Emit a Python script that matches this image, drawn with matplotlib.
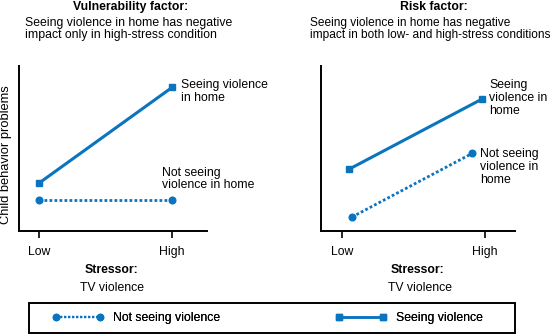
import matplotlib
matplotlib.use('Agg')
import matplotlib.pyplot as plt
from matplotlib.lines import Line2D
from matplotlib.patches import Rectangle

plt.rcParams['font.family'] = ['Liberation Sans', 'DejaVu Sans']
plt.rcParams['font.size'] = 8.8

BLUE = '#0a74bf'
W, H = 558, 334

# x: stressor level (0 = Low, 1 = High), y: child behavior problems (arbitrary units)
stress_ticks = [0, 1]
stress_labels = ['Low', 'High']

# vulnerability factor panel
vul_seeing_x = [0.0, 1.0]
vul_seeing_y = [2.9, 8.7]
vul_not_x = [0.0, 1.0]
vul_not_y = [1.9, 1.9]

# risk factor panel
risk_seeing_x = [0.05, 0.98]
risk_seeing_y = [3.75, 8.0]
risk_not_x = [0.07, 0.91]
risk_not_y = [0.85, 4.7]

legend_labels = ['Not seeing violence', 'Seeing violence']


def box(x0, y0, x1, y1):
    # pixel box (top-left origin) -> figure rect
    return [x0 / W, 1 - y1 / H, (x1 - x0) / W, (y1 - y0) / H]


def ftext(x, y, s, **kw):
    fig.text(x / W, 1 - y / H, s, **kw)


def setup(ax, xlim):
    ax.set_xlim(*xlim)
    ax.set_ylim(0, 10)
    for side in ('top', 'right'):
        ax.spines[side].set_visible(False)
    for side in ('left', 'bottom'):
        ax.spines[side].set_linewidth(1.4)
    ax.set_yticks([])
    ax.set_xticks(stress_ticks)
    ax.set_xticklabels(stress_labels)
    ax.tick_params(axis='x', length=5, width=1.2, pad=6)
    ax.patch.set_alpha(0)


def not_seeing(ax, x, y):
    ax.plot(x, y, color=BLUE, lw=2, ls=(0, (1, 0.8)),
            marker='o', ms=4.8, clip_on=False)


def seeing(ax, x, y):
    ax.plot(x, y, color=BLUE, lw=2.2, marker='s', ms=4.5, clip_on=False)


fig = plt.figure(figsize=(W / 100, H / 100), dpi=100)

ax1 = fig.add_axes(box(19, 66, 207, 231))
setup(ax1, (-0.15, 1.263))
not_seeing(ax1, vul_not_x, vul_not_y)
seeing(ax1, vul_seeing_x, vul_seeing_y)
ax1.text(1.07, 8.45, 'Seeing violence\nin home', va='center', ha='left', linespacing=1.1)
ax1.text(0.925, 3.15, 'Not seeing\nviolence in home', va='center', ha='left', linespacing=1.1)

ax2 = fig.add_axes(box(321, 66, 515, 231))
setup(ax2, (-0.147, 1.21))
not_seeing(ax2, risk_not_x, risk_not_y)
seeing(ax2, risk_seeing_x, risk_seeing_y)
ax2.text(1.03, 8.06, 'Seeing\nviolence in\nhome', va='center', ha='left', linespacing=1.1)
ax2.text(0.965, 3.9, 'Not seeing\nviolence in\nhome', va='center', ha='left', linespacing=1.1)

ftext(6, 155, 'Child behavior problems', rotation=90, ha='center', va='center',
      fontsize=9.3)

ftext(131, 7, 'Vulnerability factor:', ha='center', va='center', fontweight='bold')
ftext(25, 29, 'Seeing violence in home has negative\nimpact only in high-stress condition',
      ha='left', va='center', linespacing=1.1)
ftext(434, 7, 'Risk factor:', ha='center', va='center', fontweight='bold')
ftext(310, 29, 'Seeing violence in home has negative\nimpact in both low- and high-stress conditions',
      ha='left', va='center', linespacing=1.1, fontsize=8.55)

ftext(112, 270, 'Stressor:', ha='center', va='center', fontweight='bold')
ftext(112, 288, 'TV violence', ha='center', va='center')
ftext(418, 270, 'Stressor:', ha='center', va='center', fontweight='bold')
ftext(420, 288, 'TV violence', ha='center', va='center')

# legend: one frame, two entries placed inside it
fig.patches.append(Rectangle((29 / W, 1 - 333 / H), (515 - 29) / W, 30 / H,
                             transform=fig.transFigure, fill=False,
                             edgecolor='black', lw=1.4))
handles = [
    Line2D([], [], color=BLUE, lw=1.6, ls=(0, (1, 0.8)), marker='o', ms=4.5),
    Line2D([], [], color=BLUE, lw=1.8, marker='s', ms=4.2),
]
for handle, label, x0 in zip(handles, legend_labels, (52, 335)):
    leg = fig.legend([handle], [label], loc='center left',
                     bbox_to_anchor=(x0 / W, 1 - 318 / H),
                     numpoints=2, handlelength=4.2, handletextpad=0.8,
                     frameon=False, borderpad=0, borderaxespad=0)
    fig.add_artist(leg)

fig.savefig('out.png', dpi=100)
